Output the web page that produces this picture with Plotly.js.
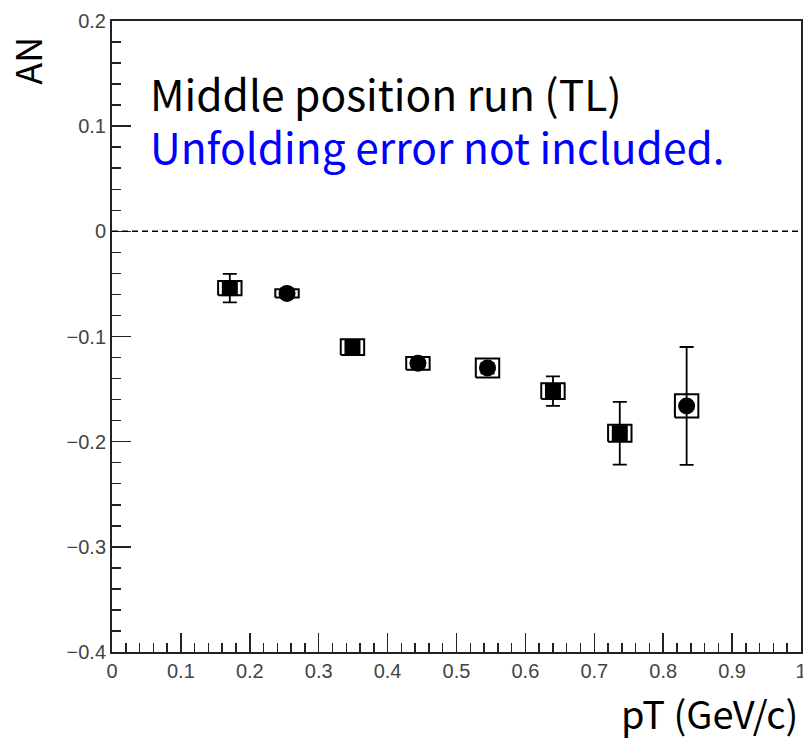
<!DOCTYPE html>
<html>
<head>
<meta charset="utf-8">
<script src="https://cdn.plot.ly/plotly-3.0.1.min.js"></script>
<style>html,body{margin:0;padding:0;background:#fff;}#chart{width:803px;height:739px;}</style>
</head>
<body>
<div id="chart"></div>
<script>
// Data
var pT      = [0.171, 0.254, 0.349, 0.444, 0.545, 0.640, 0.737, 0.834];
var AN      = [-0.054, -0.059, -0.110, -0.1255, -0.130, -0.152, -0.192, -0.166];
var statErr = [0.0136, 0.004, 0.004, 0.004, 0.005, 0.014, 0.0298, 0.056];
var sysErr  = [0.0067, 0.004, 0.0075, 0.006, 0.009, 0.0075, 0.008, 0.011];
var sysHalfWidth = 0.017;
var markerType = ['square','circle','square','circle','circle','square','square','circle'];
var xTickVals = [0,0.1,0.2,0.3,0.4,0.5,0.6,0.7,0.8,0.9,1];
var xTickText = ['0','0.1','0.2','0.3','0.4','0.5','0.6','0.7','0.8','0.9','1'];
var yTickVals = [-0.4,-0.3,-0.2,-0.1,0,0.1,0.2];
var yTickText = ['\u22120.4','\u22120.3','\u22120.2','\u22120.1','0','0.1','0.2'];

// systematic boxes built from data
var bx = [], by = [];
for (var i = 0; i < pT.length; i++) {
  var x0 = pT[i] - sysHalfWidth, x1 = pT[i] + sysHalfWidth;
  var y0 = AN[i] - sysErr[i], y1 = AN[i] + sysErr[i];
  bx.push(x0, x1, x1, x0, x0, null);
  by.push(y0, y0, y1, y1, y0, null);
}

var traces = [
  {x: bx, y: by, mode: 'lines', type: 'scatter', line: {color: '#000', width: 2}, hoverinfo: 'skip', showlegend: false},
  {x: pT, y: AN, mode: 'markers', type: 'scatter',
   marker: {color: '#000', opacity: 1, size: markerType.map(function(m){return m==='square'?16:17;}), symbol: markerType, line: {width: 0}},
   error_y: {type: 'data', array: statErr, visible: true, color: '#000', thickness: 1.8, width: 7},
   showlegend: false}
];

var tickFont = {family: 'Liberation Sans, Arial, sans-serif', size: 20, color: '#444'};
var layout = {
  width: 803, height: 739,
  margin: {l: 112, r: 2, t: 21, b: 87},
  paper_bgcolor: '#fff', plot_bgcolor: '#fff',
  showlegend: false,
  xaxis: {range: [0, 1], showgrid: false, zeroline: false, showline: true, linecolor: '#222', linewidth: 2, mirror: true,
          ticks: 'inside', ticklen: 19, tickwidth: 1.5, tickcolor: '#222', tickvals: xTickVals, ticktext: xTickText,
          tickfont: tickFont, ticklabeloverflow: 'allow',
          minor: {dtick: 0.02, tick0: 0, ticks: 'inside', ticklen: 9, tickwidth: 1.5, tickcolor: '#222', showgrid: false}},
  yaxis: {range: [-0.4, 0.2], showgrid: false, zeroline: false, showline: true, linecolor: '#222', linewidth: 2, mirror: true,
          ticks: 'inside', ticklen: 19, tickwidth: 1.5, tickcolor: '#222', tickvals: yTickVals, ticktext: yTickText,
          tickfont: tickFont, ticklabeloverflow: 'allow',
          minor: {dtick: 0.02, tick0: 0, ticks: 'inside', ticklen: 9, tickwidth: 1.5, tickcolor: '#222', showgrid: false}},
  shapes: [{type: 'line', xref: 'paper', x0: 0, x1: 1, yref: 'y', y0: 0, y1: 0, line: {color: '#000', width: 1.5, dash: '6px,4px'}}],
  annotations: [
    {text: 'Middle position run (TL)', xref: 'paper', yref: 'paper', x: 0.052, y: 0.887, xanchor: 'left', yanchor: 'middle', showarrow: false,
     font: {family: 'Noto Sans CJK KR, Noto Sans, sans-serif', size: 42.5, color: '#000'}},
    {text: 'Unfolding error not included.', xref: 'paper', yref: 'paper', x: 0.052, y: 0.802, xanchor: 'left', yanchor: 'middle', showarrow: false,
     font: {family: 'Noto Sans CJK KR, Noto Sans, sans-serif', size: 42.5, color: '#0000ff'}},
    {text: 'AN', xref: 'paper', yref: 'paper', x: -0.125, y: 0.937, xanchor: 'center', yanchor: 'middle', textangle: -90, showarrow: false,
     font: {family: 'Noto Sans CJK KR, Noto Sans, sans-serif', size: 36, color: '#000'}},
    {text: 'pT (GeV/c)', xref: 'paper', yref: 'paper', x: 0.9985, y: -0.096, xanchor: 'right', yanchor: 'middle', showarrow: false,
     font: {family: 'Noto Sans CJK KR, Noto Sans, sans-serif', size: 38, color: '#000'}}
  ]
};

Plotly.newPlot('chart', traces, layout, {staticPlot: true, displayModeBar: false});
</script>
</body>
</html>
